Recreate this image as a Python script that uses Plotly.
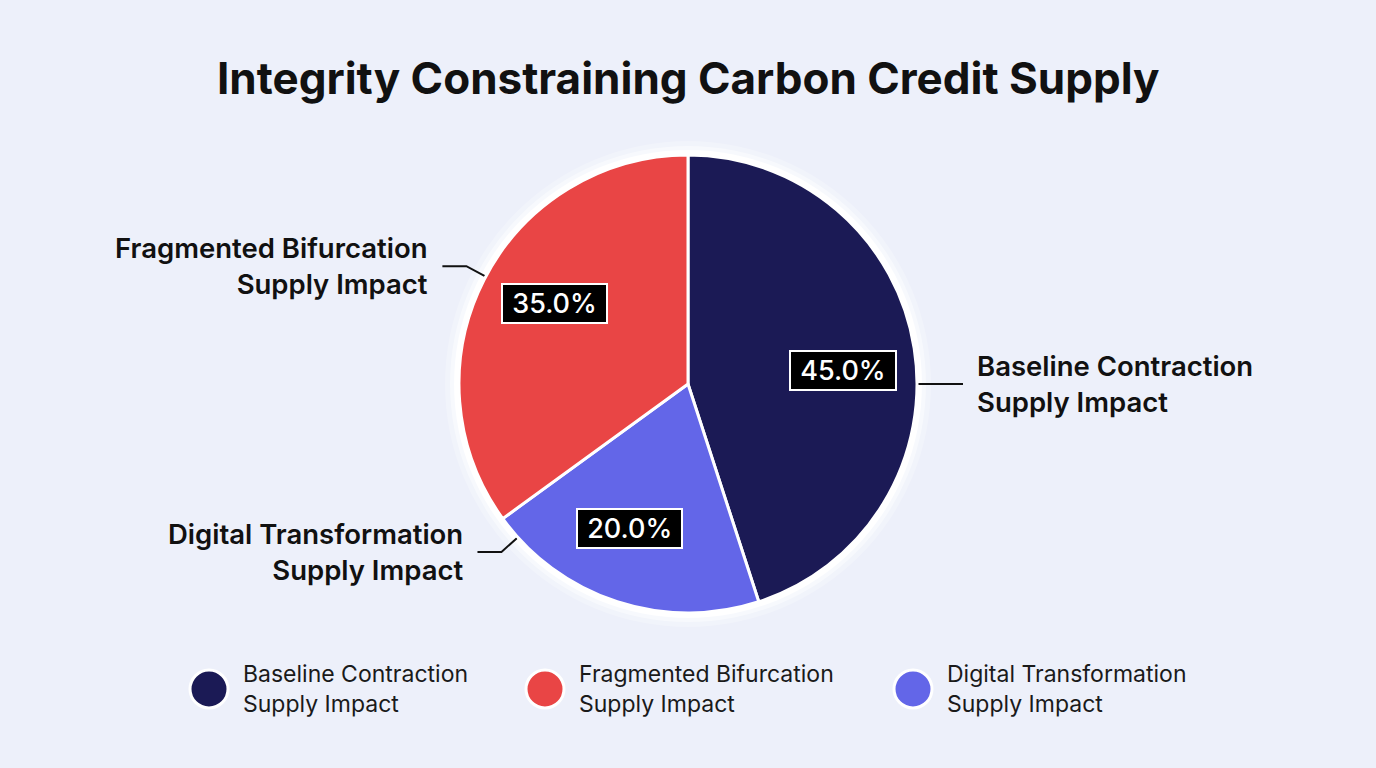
import math
import plotly.graph_objects as go

# ---- data ----
categories = ["Baseline Contraction Supply Impact",
              "Fragmented Bifurcation Supply Impact",
              "Digital Transformation Supply Impact"]
label_line1 = ["Baseline Contraction", "Fragmented Bifurcation", "Digital Transformation"]
label_line2 = ["Supply Impact", "Supply Impact", "Supply Impact"]
shares = [45.0, 35.0, 20.0]
pie_order = [0, 2, 1]          # clockwise drawing order from 12 o'clock
title_text = "Integrity Constraining Carbon Credit Supply"

# ---- styles / layout ----
colors = ["#1B1A55", "#E94545", "#6366E8"]
BG = "#EDF0FA"
W, H = 1376, 768
CX, CY, R = 688, 384, 229
FONT = "Inter"
label_angles = {0: 90, 1: 298, 2: 228}   # leader-line anchor angles (deg, clockwise from top)
label_side = {0: "right", 1: "left", 2: "left"}
legend_x = [209, 545, 913]
legend_y = 689

fig = go.Figure()

# pixel-space helper axes spanning the whole figure
fig.update_layout(
    xaxis=dict(range=[0, W], domain=[0, 1], visible=False, fixedrange=True),
    yaxis=dict(range=[H, 0], domain=[0, 1], visible=False, fixedrange=True),
)

# soft halo behind pie
for pad, op in [(14, 0.25), (9, 0.45), (5, 0.9)]:
    fig.add_shape(type="circle", xref="x", yref="y", layer="below",
                  x0=CX - R - pad, x1=CX + R + pad, y0=CY - R - pad, y1=CY + R + pad,
                  fillcolor=f"rgba(255,255,255,{op})", line=dict(width=0))

fig.add_trace(go.Pie(
    labels=[categories[i] for i in pie_order],
    values=[shares[i] for i in pie_order],
    marker=dict(colors=[colors[i] for i in pie_order], line=dict(color="white", width=3)),
    sort=False, direction="clockwise", rotation=0,
    textinfo="none", hoverinfo="label+percent", showlegend=False,
    domain=dict(x=[(CX - R) / W, (CX + R) / W], y=[1 - (CY + R) / H, 1 - (CY - R) / H]),
))

# angles of slices
total = sum(shares)
start = 0.0
mid = {}
for i in pie_order:
    span = shares[i] / total * 360
    mid[i] = start + span / 2
    start += span

def polar(ang, r):
    a = math.radians(ang)
    return CX + r * math.sin(a), CY - r * math.cos(a)

annotations = []
# percentage boxes
for i in range(len(shares)):
    x, y = polar(mid[i] + 4, 0.68 * R)
    annotations.append(dict(
        x=x, y=y, xref="x", yref="y", showarrow=False,
        text="&nbsp;" + f"{shares[i] / total * 100:.1f}%" + "&nbsp;",
        font=dict(family=FONT, size=27, color="white", weight=500),
        bgcolor="black", bordercolor="white", borderwidth=2, borderpad=2,
    ))

# leader lines and outside labels
for i in range(len(shares)):
    ang = label_angles[i]
    ex, ey = polar(ang, R + 1)
    bx, by = polar(ang, R + 22)
    sgn = 1 if label_side[i] == "right" else -1
    hx = bx + sgn * 24
    fig.add_trace(go.Scatter(x=[ex, bx, hx], y=[ey, by, by], mode="lines",
                             line=dict(color="#111111", width=2),
                             hoverinfo="skip", showlegend=False))
    annotations.append(dict(
        x=hx + sgn * 12, y=by, xref="x", yref="y", showarrow=False,
        xanchor="left" if sgn > 0 else "right", yanchor="middle",
        align="left" if sgn > 0 else "right",
        text=f"{label_line1[i]}<br>{label_line2[i]}",
        font=dict(family=FONT, size=27.5, color="#111111", weight=600),
    ))

# custom legend
fig.add_trace(go.Scatter(
    x=legend_x, y=[legend_y] * 3, mode="markers",
    marker=dict(size=38, color=colors, line=dict(color="white", width=3)),
    hoverinfo="skip", showlegend=False))
for i in range(3):
    annotations.append(dict(
        x=legend_x[i] + 32, y=legend_y, xref="x", yref="y", showarrow=False,
        xanchor="left", yanchor="middle", align="left",
        text=f"{label_line1[i]}<br>{label_line2[i]}",
        font=dict(family=FONT, size=23, color="#1a1a1a"),
    ))

# title
annotations.append(dict(
    x=CX, y=78, xref="x", yref="y", showarrow=False,
    text=title_text, xanchor="center", yanchor="middle",
    font=dict(family=FONT, size=44, color="#111111", weight=700),
))

fig.update_layout(
    width=W, height=H, margin=dict(l=0, r=0, t=0, b=0),
    paper_bgcolor=BG, plot_bgcolor=BG,
    annotations=annotations, showlegend=False,
)

fig.write_html("out.html", config={"displayModeBar": False})
